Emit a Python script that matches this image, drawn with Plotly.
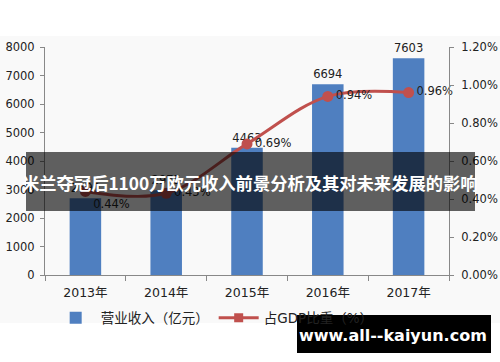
import plotly.graph_objects as go

years = ["2013年", "2014年", "2015年", "2016年", "2017年"]
revenue = [2690, 2975, 4463, 6694, 7603]
gdp_share = [0.0044, 0.0043, 0.0069, 0.0094, 0.0096]
revenue_labels = ["2690", "2975", "4463", "6694", "7603"]
share_labels = ["0.44%", "0.43%", "0.69%", "0.94%", "0.96%"]
left_ticks = [0, 1000, 2000, 3000, 4000, 5000, 6000, 7000, 8000]
right_ticks = [0, 0.002, 0.004, 0.006, 0.008, 0.010, 0.012]
right_tick_text = ["0.00%", "0.20%", "0.40%", "0.60%", "0.80%", "1.00%", "1.20%"]

W, H = 500, 362
ML, MR, MT, MB = 45, 51, 47, 87
PW, PH = W - ML - MR, H - MT - MB

def px(x):
    return (x - ML) / PW

def py(y):
    return (H - MB - y) / PH

FONT = "DejaVu Sans, Noto Sans CJK SC, sans-serif"
BLUE = "#4f7fc0"
RED = "#c0504d"

fig = go.Figure()
fig.add_trace(go.Bar(
    x=years, y=revenue, name="营业收入（亿元）",
    marker=dict(color=BLUE, line=dict(width=0)),
    width=0.39, text=revenue_labels, textposition="outside",
    textfont=dict(size=11.5, color="#222"), cliponaxis=False,
))
fig.add_trace(go.Scatter(
    x=years, y=gdp_share, yaxis="y2", name="占GDP比重（%）",
    mode="lines+markers+text", line=dict(color=RED, width=3, shape="spline"),
    marker=dict(color=RED, size=11, symbol="circle"),
    text=share_labels,
    textposition=["bottom right", "middle right", "middle right", "middle right", "middle right"],
    textfont=dict(size=11.5, color="#222"), showlegend=False, cliponaxis=False,
))
fig.add_trace(go.Scatter(
    x=[None], y=[None], yaxis="y2", name="占GDP比重（%）",
    mode="lines+markers", line=dict(color=RED, width=3),
    marker=dict(color=RED, size=9, symbol="square"),
))

shapes = [
    dict(type="rect", xref="paper", yref="paper", x0=px(0), x1=px(500),
         y0=py(323), y1=py(36), fillcolor="#f9f9f9", line=dict(width=0), layer="below"),
    dict(type="rect", xref="paper", yref="paper", x0=px(26), x1=px(475),
         y0=py(211), y1=py(152), fillcolor="rgba(0,0,0,0.62)", line=dict(width=0), layer="above"),
    dict(type="rect", xref="paper", yref="paper", x0=px(297), x1=px(491),
         y0=py(353), y1=py(315), fillcolor="#000000", line=dict(width=0), layer="above"),
]

annotations = [
    dict(text="<b>米兰夺冠后1100万欧元收入前景分析及其对未来发展的影响</b>", xref="paper", yref="paper",
         x=px(250), y=py(182), xanchor="center", yanchor="middle", showarrow=False,
         font=dict(size=17.3, color="white", family="Noto Sans CJK SC, sans-serif")),
    dict(text="<b>www.all--kaiyun.com</b>", xref="paper", yref="paper",
         x=px(393), y=py(335), xanchor="center", yanchor="middle", showarrow=False,
         font=dict(size=16, color="white", family="DejaVu Sans, sans-serif")),
]

fig.update_layout(
    width=W, height=H,
    margin=dict(l=ML, r=MR, t=MT, b=MB, pad=0, autoexpand=False),
    paper_bgcolor="white", plot_bgcolor="rgba(0,0,0,0)",
    font=dict(family=FONT, size=11.5, color="#222"),
    xaxis=dict(type="category", showline=True, linecolor="#888", linewidth=1,
               ticks="outside", ticklen=5, tickcolor="#888", tickson="boundaries",
               showgrid=False, tickfont=dict(size=12.5), ticklabelstandoff=6, automargin=False),
    yaxis=dict(range=[0, 8000], tickvals=left_ticks, showline=True, linecolor="#888",
               linewidth=1, ticks="outside", ticklen=4, tickcolor="#888", showgrid=False,
               zeroline=False, tickfont=dict(size=11.5), ticklabelstandoff=3, automargin=False),
    yaxis2=dict(range=[0, 0.012], tickvals=right_ticks, ticktext=right_tick_text,
                overlaying="y", side="right", showline=True, linecolor="#888", linewidth=1,
                ticks="outside", ticklen=4, tickcolor="#888", showgrid=False, zeroline=False,
                tickfont=dict(size=11.5), ticklabelstandoff=5, automargin=False),
    legend=dict(orientation="h", x=0.42, xanchor="center", y=py(318), yanchor="middle",
                font=dict(size=13.5), bgcolor="rgba(0,0,0,0)", itemwidth=40),
    shapes=shapes, annotations=annotations,
)

fig.write_html("out.html")
